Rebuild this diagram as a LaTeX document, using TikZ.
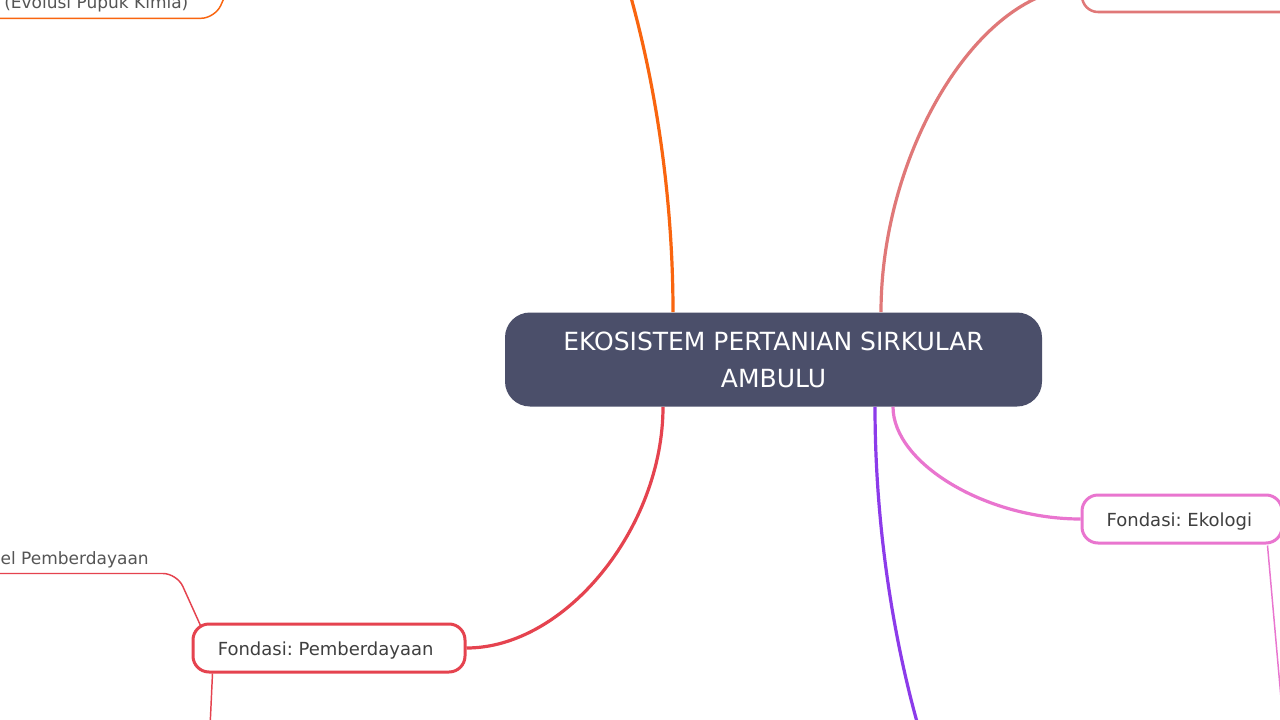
\documentclass[tikz,border=0pt]{standalone}
\usepackage{fontspec}
\setmainfont{DejaVu Sans}
\frenchspacing
\usetikzlibrary{calc}
\definecolor{rootfill}{HTML}{4B4F6A}
\definecolor{corange}{HTML}{F9650F}
\definecolor{ccoral}{HTML}{E07878}
\definecolor{cred}{HTML}{E5434F}
\definecolor{cpink}{HTML}{E975CF}
\definecolor{cpurple}{HTML}{8C3BEA}
\definecolor{ctext}{HTML}{3F3F3F}
\definecolor{cleaf}{HTML}{555555}
\tikzset{
  rootbox/.style={rectangle, rounded corners=18.75pt, fill=rootfill, draw=none,
    minimum width=402.75pt, minimum height=70.5pt, inner sep=0pt,
    text=white, align=center, font=\fontsize{18.75pt}{27.75pt}\selectfont},
  branchbox/.style={rectangle, rounded corners=12pt, fill=white, draw=#1, line width=2.25pt,
    minimum height=36pt, inner sep=0pt, text=ctext,
    text height=10.5pt, text depth=0pt, font=\fontsize{13.5pt}{16pt}\selectfont},
  leaftext/.style={inner sep=0pt, text=cleaf, font=\fontsize{12.75pt}{15pt}\selectfont},
  mainlink/.style={draw=#1, line width=2.4pt},
  thinlink/.style={draw=#1, line width=1.1pt, rounded corners=10.5pt},
}
\begin{document}
\begin{tikzpicture}[x=0.75pt,y=-0.75pt]
\useasboundingbox (0,0) rectangle (1280,720);
\fill[white] (0,0) rectangle (1280,720);

% off-canvas ends
\coordinate (orangeparent) at (465,-250);
\coordinate (purplechild) at (1082,968);
\coordinate (orangeleafup) at (242,-42);
\coordinate (orangeleafend) at (-20,18.3);
\coordinate (redleafend) at (-20,573.5);
\coordinate (redchild) at (208.5,760);
\coordinate (pinkchild) at (1284.7,740);

% nodes
\node[rootbox] (root) at (773.5,359.5) {EKOSISTEM PERTANIAN SIRKULAR\\AMBULU};
\node[branchbox=cred, minimum width=204pt] (pem) at (329,648) {Fondasi: Pemberdayaan\kern5pt};
\node[branchbox=cpink, minimum width=150pt] (eko) at (1182,519) {Fondasi: Ekologi\kern4pt};
\node[branchbox=ccoral, line width=1.9pt, minimum width=240pt] (topright) at (1242,-12) {};
\node[leaftext, anchor=base east] (lvl) at (149,564.3) {Level Pemberdayaan};
\node[leaftext, anchor=base west] (evo) at (4,9) {(Evolusi Pupuk Kimia)};

% main branches
\draw[mainlink=corange] ($(root.north)+(-100.5,0)$) .. controls +(0,-281) and +(104,0) .. (orangeparent);
\draw[mainlink=ccoral] ($(root.north)+(107.5,0)$) .. controls +(0,-162) and +(-100.5,0) .. (topright.west);
\draw[mainlink=cred] ($(root.south)+(-110.5,0)$) .. controls +(0,121) and +(99,0) .. (pem.east);
\draw[mainlink=cpink] ($(root.south)+(119.5,0)$) .. controls +(0,56.5) and +(-94.5,0) .. (eko.west);
\draw[mainlink=cpurple] ($(root.south)+(101.5,0)$) .. controls +(0,281) and +(-103.5,0) .. (purplechild);

% sub links
\draw[thinlink=cred] ($(pem.north west)+(9,3)$) -- (177,573.5) -- (redleafend);
\draw[thinlink=cred] ($(pem.south west)+(21,0)$) -- (redchild);
\draw[thinlink=corange] (orangeleafend) -- (215,18.3) -- (orangeleafup);
\draw[thinlink=cpink] ($(eko.south east)+(-16,1)$) -- (pinkchild);
\end{tikzpicture}
\end{document}
